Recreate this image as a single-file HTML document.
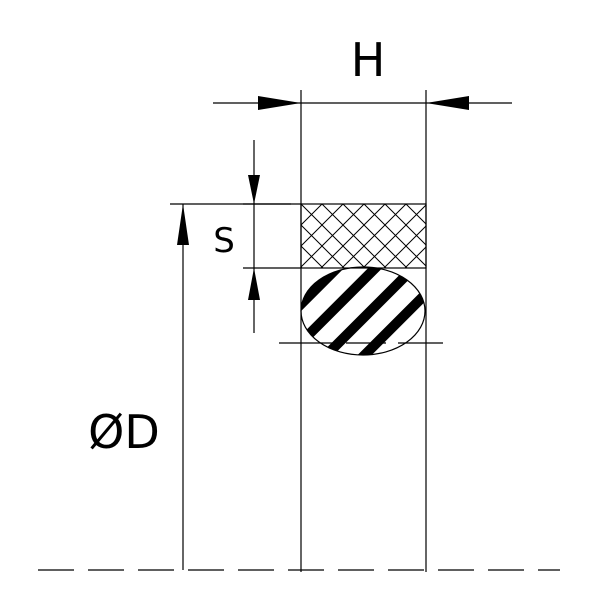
<!DOCTYPE html>
<html><head><style>body{margin:0;background:#fff}svg{display:block}</style></head><body>
<svg width="600" height="600" viewBox="0 0 600 600" xmlns="http://www.w3.org/2000/svg">
<defs>
<pattern id="x" width="21" height="21" patternUnits="userSpaceOnUse" x="301" y="204">
<path d="M0 0L21 21M21 0L0 21" stroke="#000" stroke-width="1"/>
</pattern>
<pattern id="st" width="27" height="27" y="14" patternUnits="userSpaceOnUse" patternTransform="rotate(-45 363 310)">
<rect x="0" y="0" width="27" height="10" fill="#000"/>
</pattern>
<clipPath id="ec"><ellipse cx="363" cy="311" rx="62" ry="44"/></clipPath>
</defs>
<g stroke="#000" stroke-width="1.2" fill="none">
<rect x="301" y="204" width="125" height="64" fill="url(#x)"/>
<line x1="301" y1="90" x2="301" y2="572"/>
<line x1="426" y1="90" x2="426" y2="572"/>
<line x1="213" y1="103" x2="512" y2="103"/>
<line x1="254" y1="140" x2="254" y2="333"/>
<line x1="243" y1="204" x2="291" y2="204"/>
<line x1="243" y1="268" x2="301" y2="268"/>
<line x1="183" y1="204" x2="183" y2="570"/>
<line x1="170" y1="204" x2="301" y2="204"/>
<line x1="38" y1="570" x2="560" y2="570" stroke-dasharray="36 14"/>
<line x1="279" y1="343" x2="443" y2="343" stroke-dasharray="55 12 40 12"/>
</g>
<rect x="300" y="268" width="127" height="90" fill="url(#st)" clip-path="url(#ec)"/>
<ellipse cx="363" cy="311" rx="62" ry="44" fill="none" stroke="#000" stroke-width="1.2"/>
<g fill="#000">
<polygon points="301,103 258,96 258,110"/>
<polygon points="426,103 469,96 469,110"/>
<polygon points="254,204 248,175 260,175"/>
<polygon points="254,268 248,300 260,300"/>
<polygon points="183,204 177,245 189,245"/>
</g>
<g font-family="DejaVu Sans, sans-serif" fill="#000">
<text x="368" y="76" font-size="46" text-anchor="middle">H</text>
<text x="224" y="252" font-size="34" text-anchor="middle">S</text>
<text x="124" y="448" font-size="46" text-anchor="middle">ØD</text>
</g>
</svg>
</body></html>
